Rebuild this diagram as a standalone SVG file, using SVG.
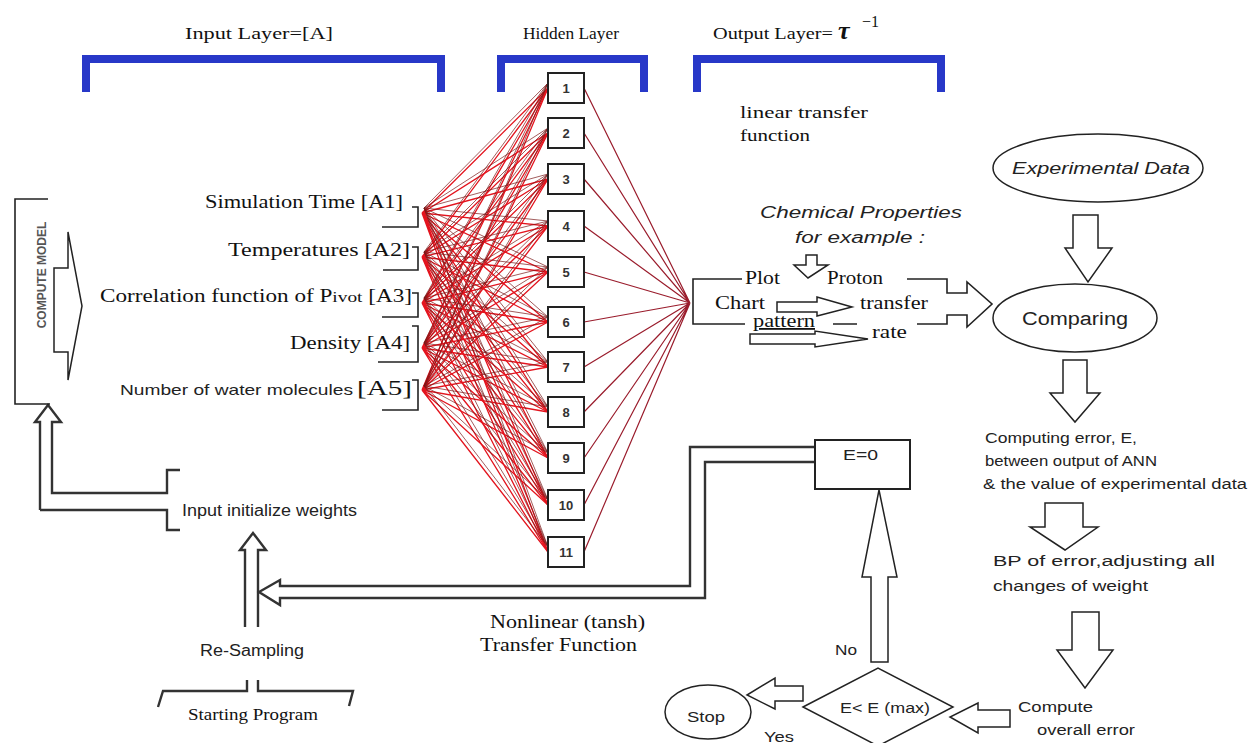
<svg xmlns="http://www.w3.org/2000/svg" width="1250" height="743" viewBox="0 0 1250 743">
<style>
.serif{font-family:"Liberation Serif","Times New Roman",serif;fill:#111}
.sans{font-family:"Liberation Sans",Arial,sans-serif;fill:#222}
.blue{fill:none;stroke:#2838c8;stroke-width:8}
.ln{fill:none;stroke:#222;stroke-width:1.6}
.dbl{fill:none;stroke:#333;stroke-width:2.4}
.hol{fill:#fff;stroke:#222;stroke-width:1.5}
.red{fill:none;stroke:#e3141e;stroke-width:1.3}
.dark{fill:none;stroke:#7a1818;stroke-width:0.7}
.out{fill:none;stroke:#9a1c2c;stroke-width:1.2}
.node rect{fill:#fff;stroke:#222;stroke-width:2}
.node text{font-family:"Liberation Sans",Arial,sans-serif;font-size:13px;font-weight:bold;fill:#333;text-anchor:middle}
</style>
<rect width="1250" height="743" fill="#fff"/>

<!-- layer headers -->
<g id="headers">
<text class="serif" x="185" y="39" font-size="16" textLength="148" lengthAdjust="spacingAndGlyphs">Input Layer=[A]</text>
<text class="serif" x="523" y="39" font-size="17" textLength="96" lengthAdjust="spacingAndGlyphs">Hidden Layer</text>
<text class="serif" x="713" y="39" font-size="16" textLength="120" lengthAdjust="spacingAndGlyphs">Output Layer=</text>
<text class="serif" x="838" y="39" font-size="26" font-style="italic" font-weight="bold">τ</text>
<text class="serif" x="862" y="27" font-size="16">−1</text>
<path class="blue" d="M86,92V59H441V92"/>
<path class="blue" d="M501,92V59H644V92"/>
<path class="blue" d="M697,92V59H941V92"/>
<text class="serif" x="740" y="118" font-size="17" textLength="128" lengthAdjust="spacingAndGlyphs">linear transfer</text>
<text class="serif" x="740" y="141" font-size="17" textLength="70" lengthAdjust="spacingAndGlyphs">function</text>
</g>

<!-- connectors -->
<g id="connectors">
<path class="red" d="M422 213L548 88M422 213L548 133M422 213L548 179M422 213L548 226M422 213L548 272M422 213L548 322M422 213L548 367M422 213L548 412M422 213L548 458M422 213L548 505M422 213L548 552"/>
<path class="red" d="M422 257L548 88M422 257L548 133M422 257L548 179M422 257L548 226M422 257L548 272M422 257L548 322M422 257L548 367M422 257L548 412M422 257L548 458M422 257L548 505M422 257L548 552"/>
<path class="red" d="M422 303L548 88M422 303L548 133M422 303L548 179M422 303L548 226M422 303L548 272M422 303L548 322M422 303L548 367M422 303L548 412M422 303L548 458M422 303L548 505M422 303L548 552"/>
<path class="red" d="M422 348L548 88M422 348L548 133M422 348L548 179M422 348L548 226M422 348L548 272M422 348L548 322M422 348L548 367M422 348L548 412M422 348L548 458M422 348L548 505M422 348L548 552"/>
<path class="red" d="M422 390L548 88M422 390L548 133M422 390L548 179M422 390L548 226M422 390L548 272M422 390L548 322M422 390L548 367M422 390L548 412M422 390L548 458M422 390L548 505M422 390L548 552"/>
<path class="dark" d="M424 208L548 83M424 208L548 128M424 208L548 174M424 208L548 221M424 208L548 267M424 208L548 317M424 208L548 362M424 208L548 407M424 208L548 453M424 208L548 500M424 208L548 547"/>
<path class="dark" d="M424 252L548 83M424 252L548 128M424 252L548 174M424 252L548 221M424 252L548 267M424 252L548 317M424 252L548 362M424 252L548 407M424 252L548 453M424 252L548 500M424 252L548 547"/>
<path class="dark" d="M424 298L548 83M424 298L548 128M424 298L548 174M424 298L548 221M424 298L548 267M424 298L548 317M424 298L548 362M424 298L548 407M424 298L548 453M424 298L548 500M424 298L548 547"/>
<path class="dark" d="M424 343L548 83M424 343L548 128M424 343L548 174M424 343L548 221M424 343L548 267M424 343L548 317M424 343L548 362M424 343L548 407M424 343L548 453M424 343L548 500M424 343L548 547"/>
<path class="dark" d="M424 386L548 83M424 386L548 128M424 386L548 174M424 386L548 221M424 386L548 267M424 386L548 317M424 386L548 362M424 386L548 407M424 386L548 453M424 386L548 500M424 386L548 547"/>
<path class="out" d="M584 88L690 303M584 133L690 303M584 179L690 303M584 226L690 303M584 272L690 303M584 322L690 303M584 367L690 303M584 412L690 303M584 458L690 303M584 505L690 303M584 552L690 303"/>

<!-- loop from compute model -->
<path class="dbl" d="M40,510V422H35L48,405L61,422H52V493H167V470H180"/>
<path class="dbl" d="M40,510H167V530H180"/>
<!-- Re-Sampling up arrow -->
<path class="dbl" d="M245,627V550H240L253,533L266,550H258V627"/>
<!-- feedback from E=0 -->
<path class="dbl" d="M815,447H690V586H280V580L259,592L280,605V598H705V462H815"/>
<!-- Starting program bracket -->
<path class="dbl" d="M158,707L163,691H247V680M258,680V691H353L349,706"/>

<!-- chemical block -->
<path class="ln" d="M742,279H693V324H745M833,324H857M907,279H947V293H967V282L992,304L967,327V315H947V324H917"/>
<polygon class="hol" points="806,255 817,255 817,265 828,265 808,278 794,265 806,265"/>
<polygon class="hol" points="777,302 817,302 817,297 852,307 817,316 817,312 777,312"/>
<polygon class="hol" points="750,334 815,334 815,331 868,339 815,347 815,344 750,344"/>

<!-- right column arrows -->
<polygon class="hol" points="1073,215 1098,215 1098,248 1112,248 1088,282 1065,248 1073,248"/>
<polygon class="hol" points="1063,360 1087,360 1087,393 1100,393 1075,422 1050,393 1063,393"/>
<polygon class="hol" points="1045,503 1083,503 1083,527 1098,527 1065,550 1030,527 1045,527"/>
<polygon class="hol" points="1072,612 1099,612 1099,650 1113,650 1085,688 1057,650 1072,650"/>
<polygon class="hol" points="1010,710 1010,727 978,727 978,733 950,717 978,703 978,710"/>
<polygon class="hol" points="871,662 871,577 862,577 879,490 897,577 888,577 888,662"/>
<polygon class="hol" points="803,686 803,701 775,701 775,709 747,695 775,678 775,686"/>
</g>

<!-- compute model -->
<g id="compute-model">
<path class="ln" d="M48,199H15V404H50"/>
<polygon class="hol" points="68,232 82,306 68,380 68,352 54,352 54,268 68,268"/>
<text transform="translate(46,275) rotate(-90)" font-family="Liberation Sans, Arial, sans-serif" font-size="12" font-weight="bold" fill="#555" text-anchor="middle">COMPUTE MODEL</text>
</g>

<!-- input nodes -->
<g id="input-A1">
<text class="serif" x="205" y="208" font-size="18" textLength="198" lengthAdjust="spacingAndGlyphs">Simulation Time [A1]</text>
<path class="ln" d="M412,207H418V227H382"/>
</g>
<g id="input-A2">
<text class="serif" x="228" y="256" font-size="18" textLength="182" lengthAdjust="spacingAndGlyphs">Temperatures [A2]</text>
<path class="ln" d="M412,247H418V270H383"/>
</g>
<g id="input-A3">
<text class="serif" x="100" y="302" font-size="18" textLength="312" lengthAdjust="spacingAndGlyphs">Correlation function of P<tspan font-size="15">ivot</tspan> [A3]</text>
<path class="ln" d="M412,293H418V317H382"/>
</g>
<g id="input-A4">
<text class="serif" x="290" y="349" font-size="18" textLength="120" lengthAdjust="spacingAndGlyphs">Density [A4]</text>
<path class="ln" d="M412,326H418V362H378"/>
</g>
<g id="input-A5">
<text class="sans" x="120" y="395" font-size="15" textLength="233" lengthAdjust="spacingAndGlyphs">Number of water molecules</text>
<text class="serif" x="357" y="395" font-size="20" textLength="55" lengthAdjust="spacingAndGlyphs">[A5]</text>
<path class="ln" d="M412,380H418V410H382"/>
</g>

<!-- hidden nodes -->
<g id="node-1" class="node"><rect x="548" y="73" width="36" height="30"/><text x="566" y="93">1</text></g>
<g id="node-2" class="node"><rect x="548" y="118" width="36" height="30"/><text x="566" y="138">2</text></g>
<g id="node-3" class="node"><rect x="548" y="164" width="36" height="30"/><text x="566" y="184">3</text></g>
<g id="node-4" class="node"><rect x="548" y="211" width="36" height="30"/><text x="566" y="231">4</text></g>
<g id="node-5" class="node"><rect x="548" y="257" width="36" height="30"/><text x="566" y="277">5</text></g>
<g id="node-6" class="node"><rect x="548" y="307" width="36" height="30"/><text x="566" y="327">6</text></g>
<g id="node-7" class="node"><rect x="548" y="352" width="36" height="30"/><text x="566" y="372">7</text></g>
<g id="node-8" class="node"><rect x="548" y="397" width="36" height="30"/><text x="566" y="417">8</text></g>
<g id="node-9" class="node"><rect x="548" y="443" width="36" height="30"/><text x="566" y="463">9</text></g>
<g id="node-10" class="node"><rect x="548" y="490" width="36" height="30"/><text x="566" y="510">10</text></g>
<g id="node-11" class="node"><rect x="548" y="537" width="36" height="30"/><text x="566" y="557">11</text></g>

<!-- chemical properties -->
<g id="chemical-properties">
<text class="sans" x="760" y="218" font-size="16" font-style="italic" textLength="202" lengthAdjust="spacingAndGlyphs">Chemical Properties</text>
<text class="sans" x="795" y="243" font-size="16" font-style="italic" textLength="130" lengthAdjust="spacingAndGlyphs">for example :</text>
<text class="serif" x="745" y="284" font-size="18" textLength="35" lengthAdjust="spacingAndGlyphs">Plot</text>
<text class="serif" x="827" y="284" font-size="18" textLength="56" lengthAdjust="spacingAndGlyphs">Proton</text>
<text class="serif" x="715" y="309" font-size="18" textLength="50" lengthAdjust="spacingAndGlyphs">Chart</text>
<text class="serif" x="860" y="309" font-size="18" textLength="68" lengthAdjust="spacingAndGlyphs">transfer</text>
<text class="serif" x="753" y="327" font-size="18" textLength="62" lengthAdjust="spacingAndGlyphs" text-decoration="underline">pattern</text>
<text class="serif" x="872" y="338" font-size="18" textLength="35" lengthAdjust="spacingAndGlyphs">rate</text>
</g>

<!-- right column -->
<g id="experimental-data">
<ellipse cx="1098" cy="168" rx="105" ry="34" fill="#fff" stroke="#222" stroke-width="1.5"/>
<text class="sans" x="1012" y="174" font-size="17" font-style="italic" textLength="178" lengthAdjust="spacingAndGlyphs">Experimental Data</text>
</g>
<g id="comparing">
<ellipse cx="1075" cy="318" rx="82" ry="34" fill="#fff" stroke="#222" stroke-width="1.5"/>
<text class="sans" x="1022" y="325" font-size="18" textLength="106" lengthAdjust="spacingAndGlyphs">Comparing</text>
</g>
<g id="computing-error">
<text class="sans" x="985" y="443" font-size="14" textLength="152" lengthAdjust="spacingAndGlyphs">Computing error,  E,</text>
<text class="sans" x="985" y="466" font-size="14" textLength="172" lengthAdjust="spacingAndGlyphs">between  output of ANN</text>
<text class="sans" x="983" y="489" font-size="14" textLength="264" lengthAdjust="spacingAndGlyphs">&amp; the value of experimental data</text>
</g>
<g id="bp-error">
<text class="sans" x="993" y="566" font-size="14" textLength="222" lengthAdjust="spacingAndGlyphs">BP of error,adjusting all</text>
<text class="sans" x="993" y="591" font-size="14" textLength="155" lengthAdjust="spacingAndGlyphs">changes of weight</text>
</g>
<g id="compute-overall-error">
<text class="sans" x="1018" y="712" font-size="14" textLength="75" lengthAdjust="spacingAndGlyphs">Compute</text>
<text class="sans" x="1037" y="735" font-size="14" textLength="98" lengthAdjust="spacingAndGlyphs">overall error</text>
</g>
<g id="decision">
<polygon points="803,707 878,668 953,707 878,746" fill="#fff" stroke="#222" stroke-width="1.5"/>
<text class="sans" x="840" y="713" font-size="15" textLength="90" lengthAdjust="spacingAndGlyphs">E&lt; E (max)</text>
<text class="sans" x="835" y="655" font-size="15" textLength="22" lengthAdjust="spacingAndGlyphs">No</text>
<text class="sans" x="764" y="742" font-size="15" textLength="30" lengthAdjust="spacingAndGlyphs">Yes</text>
</g>
<g id="stop">
<ellipse cx="708" cy="712" rx="43" ry="27" fill="#fff" stroke="#222" stroke-width="1.5"/>
<text class="sans" x="687" y="722" font-size="15" textLength="38" lengthAdjust="spacingAndGlyphs">Stop</text>
</g>
<g id="e-zero">
<rect x="815" y="440" width="95" height="49" fill="#fff" stroke="#222" stroke-width="2"/>
<text class="sans" x="843" y="460" font-size="15" textLength="35" lengthAdjust="spacingAndGlyphs">E=0</text>
</g>

<!-- left bottom -->
<g id="input-weights">
<text class="sans" x="182" y="516" font-size="16" textLength="175" lengthAdjust="spacingAndGlyphs">Input initialize weights</text>
</g>
<g id="re-sampling">
<text class="sans" x="200" y="656" font-size="16" textLength="104" lengthAdjust="spacingAndGlyphs">Re-Sampling</text>
</g>
<g id="starting-program">
<text class="serif" x="188" y="720" font-size="16" textLength="130" lengthAdjust="spacingAndGlyphs">Starting Program</text>
</g>
<g id="nonlinear-label">
<text class="serif" x="490" y="628" font-size="18" textLength="155" lengthAdjust="spacingAndGlyphs">Nonlinear (tansh)</text>
<text class="serif" x="480" y="651" font-size="18" textLength="157" lengthAdjust="spacingAndGlyphs">Transfer Function</text>
</g>
</svg>
